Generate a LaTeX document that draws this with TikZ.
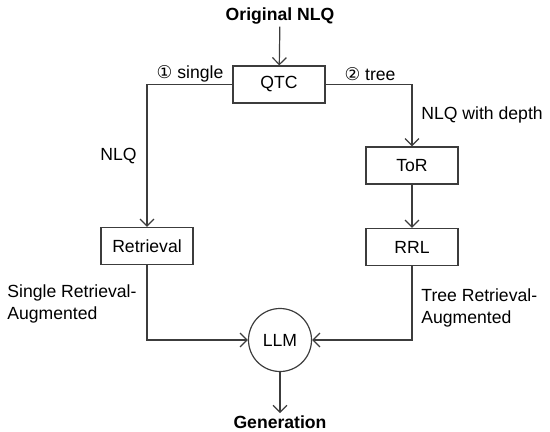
\documentclass[tikz,border=0pt]{standalone}
\usepackage{fontspec}
\setmainfont{Liberation Sans}
\newfontfamily\circfont{DejaVu Sans}
\usetikzlibrary{arrows.meta}
\definecolor{linegray}{HTML}{3C3C3C}

\begin{document}
\begin{tikzpicture}[
	x=0.5pt, y=-0.5pt,
	font=\fontsize{8.8}{11}\selectfont,
	box/.style={draw=linegray, line width=0.6pt, minimum width=46pt, minimum height=18.5pt, inner sep=2pt},
	llmnode/.style={draw=linegray, circle, line width=0.6pt, minimum size=31.5pt, inner sep=0pt},
	lbl/.style={inner sep=1pt},
	io/.style={font=\fontsize{8.8}{11}\selectfont\bfseries, inner sep=1pt},
	arr/.style={-{Straight Barb[length=3.5pt, width=7pt]}, draw=linegray, line width=0.6pt}
]
\useasboundingbox (0,0) rectangle (550,432);

% input / output
\node[io] (orig) at (280,16) {Original NLQ};
\node[io] (gen) at (280,422) {Generation};

% main blocks
\node[box] (qtc) at (279,84.5) {QTC};
\node[box] (ret) at (147,246) {Retrieval};
\node[box] (tor) at (412,165.5) {ToR};
\node[box] (rrl) at (412,247) {RRL};
\node[llmnode] (llm) at (280,340) {LLM};

% labels
\node[lbl] (single) at (190,74) {{\circfont ①} single};
\node[lbl] (tree) at (370,74) {{\circfont ②} tree};
\node[lbl, anchor=west] (depth) at (419,115) {NLQ with depth};
\node[lbl, anchor=east] (nlq) at (139,156) {NLQ};
\node[lbl, anchor=west, align=left] (sra) at (5,304) {Single Retrieval-\\Augmented};
\node[lbl, anchor=west, align=left] (tra) at (419,308) {Tree Retrieval-\\Augmented};

% arrows
\draw[arr] (orig) -- (qtc);
\draw[arr] (qtc.west) -| (ret.north);
\draw[arr] (qtc.east) -| (tor.north);
\draw[arr] (tor) -- (rrl);
\draw[arr] (ret.south) |- (llm.west);
\draw[arr] (rrl.south) |- (llm.east);
\draw[arr] (llm) -- (gen);
\end{tikzpicture}
\end{document}
